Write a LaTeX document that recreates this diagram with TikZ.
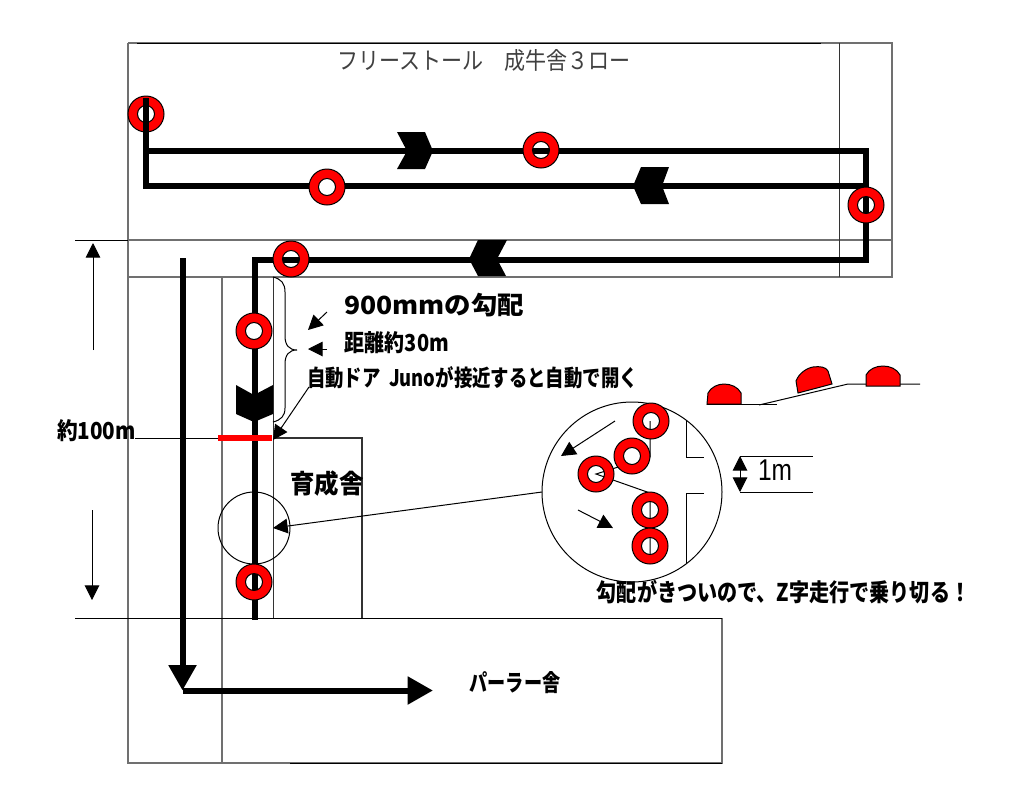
\documentclass[tikz,border=0pt]{standalone}
\usepackage{graphicx}
\usepackage{fontspec}
\setmainfont{Liberation Sans}
\newfontfamily\jp{Noto Sans CJK JP}
\newfontfamily\jpb{Noto Sans CJK JP}[BoldFont={Noto Sans CJK JP Black}]
\newcommand{\jpbold}{\jpb\bfseries}
\usetikzlibrary{arrows.meta}
\definecolor{wallgray}{HTML}{707070}
\newcommand{\ringhole}[1]{\fill[white] (#1) circle[radius=9];}
\newcommand{\ringband}[1]{\path[fill=red,draw=black,line width=.75pt,even odd rule] (#1) circle[radius=18] (#1) circle[radius=8.5];}
\newcommand{\ringfull}[1]{\ringhole{#1}\ringband{#1}}
\tikzset{
  wall/.style={draw=wallgray,line width=.9pt},
  hair/.style={draw=black,line width=.75pt},
  route/.style={draw=black,line width=4.5pt,line join=miter},
  bigroute/.style={route,-{Triangle[length=19pt,width=20pt]}},
  ptr/.style={hair,-{Triangle[length=11pt,width=11pt]}},
  chev/.style={fill=black},
  bump/.style={fill=red,draw=black,line width=.75pt},
  lbl/.style={inner sep=0pt,outer sep=0pt,anchor=center},
}
\begin{document}
\begin{tikzpicture}[x=.75pt,y=-.75pt]
\useasboundingbox (0,0) rectangle (1021,794);
\fill[white] (0,0) rectangle (1021,794);
% walls
\coordinate (tl) at (128,43); \coordinate (tr) at (892,43);
\coordinate (br) at (892,277); \coordinate (bl) at (128,763);
\draw[wall] (tl) -- (tr) -- (br) -- (128,277);
\draw[wall] (tl) -- (bl) -- (722,763) -- (722,618);
\draw[wall] (128,240) -- (892,240);
\draw[hair] (137,43) -- (821,43);
\draw[hair,draw=black!80] (839,43) -- (839,277);
\draw[hair] (75,240) -- (128,240);
\draw[wall] (222,277) -- (222,763);
\draw[hair,draw=black!80] (273,277) -- (273,618);
\draw[hair] (75,618) -- (722,618);
\draw[hair] (135,438) -- (218,438);
\draw[wall,draw=black!80] (273,438) -- (362,438) -- (362,618);
\draw[hair] (290,763) -- (722,763);
% detail marker
\draw[hair] (254,528) circle[radius=36];
% route
\coordinate (a0) at (146,98); \coordinate (a1) at (146,151); \coordinate (a2) at (866,151);
\coordinate (a3) at (866,260); \coordinate (a4) at (255,260); \coordinate (a5) at (255,620);
\coordinate (b1) at (146,186); \coordinate (b2) at (866,186);
\coordinate (c0) at (182.5,258); \coordinate (c1) at (182.5,690.5); \coordinate (c2) at (433,690.5);
\ringfull{146,114}
\ringhole{541,150}\ringhole{866,205}\ringhole{291,259}\ringhole{254,582}
\draw[route] (a0) -- (a1) -- (a2) -- (a3) -- (a4) -- (a5);
\draw[route] (a1) -- (b1) -- (b2);
\ringband{541,150}\ringband{866,205}\ringband{291,259}\ringband{254,582}
\ringfull{327,187}\ringfull{254,331}
\draw[bigroute] (c0) -- (c1);
\draw[bigroute] (c1) -- (c2);
% chevrons
\fill[chev] (397,132) -- (425,132) -- (433,151) -- (425,169) -- (397,169) -- (407,151) -- cycle;
\fill[chev] (669,167) -- (641,167) -- (633,186) -- (641,204) -- (669,204) -- (662,186) -- cycle;
\fill[chev] (507,240) -- (478,240) -- (469,259) -- (478,276) -- (506,276) -- (497,259) -- cycle;
\fill[chev] (236,385) -- (254,395) -- (273,385) -- (273,414) -- (254,422) -- (236,414) -- cycle;
% door
\draw[draw=red,line width=4.2pt] (218,438) -- (272,438);
% brace
\draw[hair] (273,277) .. controls (281,279) and (285,283) .. (285,292) -- (285,336)
  .. controls (285,345) and (289,350) .. (297,350)
  .. controls (289,350) and (285,355) .. (285,364) -- (285,408)
  .. controls (285,416) and (281,420) .. (273,422);
% pointers
\coordinate (p1s) at (327,312); \coordinate (p1e) at (308,330);
\coordinate (p2s) at (327,349); \coordinate (p2e) at (308,349);
\coordinate (p3s) at (309,387); \coordinate (p3e) at (273,440);
\coordinate (p4s) at (542,492); \coordinate (p4e) at (273,528);
\draw[ptr] (p1s) -- (p1e);
\draw[ptr] (p2s) -- (p2e);
\draw[ptr] (p3s) -- (p3e);
\draw[ptr] (p4s) -- (p4e);
% 100 m dimension
\coordinate (d1s) at (93,350); \coordinate (d1e) at (93,243);
\coordinate (d2s) at (92,510); \coordinate (d2e) at (92,600);
\draw[ptr] (d1s) -- (d1e);
\draw[ptr] (d2s) -- (d2e);
% detail circle
\draw[hair,fill=white] (632,492) circle[radius=90];
\coordinate (w1) at (686,420); \coordinate (w2) at (686,457); \coordinate (w3) at (704,457);
\coordinate (w4) at (704,493); \coordinate (w5) at (686,493); \coordinate (w6) at (686,563);
\draw[hair] (w1) -- (w2) -- (w3);
\draw[hair] (w4) -- (w5) -- (w6);
\ringhole{651,421}\ringhole{632,456}\ringhole{596,474}\ringhole{650,510}\ringhole{650,546}
\coordinate (z1) at (650,421); \coordinate (z2) at (650,457); \coordinate (z3) at (596,474);
\coordinate (z4) at (650,493); \coordinate (z5) at (650,555);
\draw[hair] (z1) -- (z2) -- (z3) -- (z4) -- (z5);
\ringband{651,421}\ringhole{632,456}\ringband{632,456}\ringband{596,474}\ringband{650,510}\ringband{650,546}
\coordinate (q1s) at (615,421); \coordinate (q1e) at (561,456);
\coordinate (q2s) at (578,510); \coordinate (q2e) at (613,528);
\draw[ptr] (q1s) -- (q1e);
\draw[ptr] (q2s) -- (q2e);
% 1 m dimension
\coordinate (m1) at (740,456); \coordinate (m1b) at (813,456);
\coordinate (m2) at (740,492); \coordinate (m2b) at (813,492);
\coordinate (mm) at (740,474.5);
\draw[hair] (m1) -- (m1b);
\draw[hair] (m2) -- (m2b);
\draw[ptr] (mm) -- (m1);
\draw[ptr] (mm) -- (m2);
% slope profile
\draw[hair] (707,404) -- (777,404);
\draw[hair] (759,405) -- (848,384) -- (920,384);
\draw[bump] (707,404) -- (708,393) .. controls (711,387) and (718,384) .. (724,384)
  .. controls (731,384) and (738,387) .. (741,393) -- (741,404) -- cycle;
\draw[bump] (798,393) -- (796,381) .. controls (799,373) and (807,368) .. (813,367)
  .. controls (820,366) and (826,367) .. (828,371) -- (832,384) -- cycle;
\draw[bump] (866,386) -- (866,375) .. controls (869,369) and (876,366) .. (883,366)
  .. controls (890,366) and (897,369) .. (900,375) -- (900,386) -- cycle;
% labels
\node[lbl,text=black!75] (title) at (484,61) {\resizebox{220pt}{15pt}{\jp フリーストール　成牛舎３ロー}};
\node[lbl] (slope) at (434,305) {\resizebox{135pt}{16pt}{\jpbold 900mmの勾配}};
\node[lbl] (dist) at (397,343) {\resizebox{78pt}{15pt}{\jpbold 距離約30m}};
\node[lbl] (door) at (472.5,378) {\resizebox{248pt}{15pt}{\jpbold 自動ドア\ \ Junoが接近すると自動で開く}};
\node[lbl] (len) at (96.5,431) {\resizebox{59pt}{15pt}{\jpbold 約100m}};
\node[lbl] (raise) at (327,484) {\resizebox{55pt}{17pt}{\jpbold 育成舎}};
\node[lbl] (zig) at (783.5,592) {\resizebox{280pt}{16pt}{\jpbold 勾配がきついので、Z字走行で乗り切る！}};
\node[lbl] (parlor) at (515,683) {\resizebox{68pt}{15pt}{\jpbold パーラー舎}};
\node[lbl] (onem) at (775,470) {\resizebox{25.5pt}{15.5pt}{1m}};
\end{tikzpicture}
\end{document}
